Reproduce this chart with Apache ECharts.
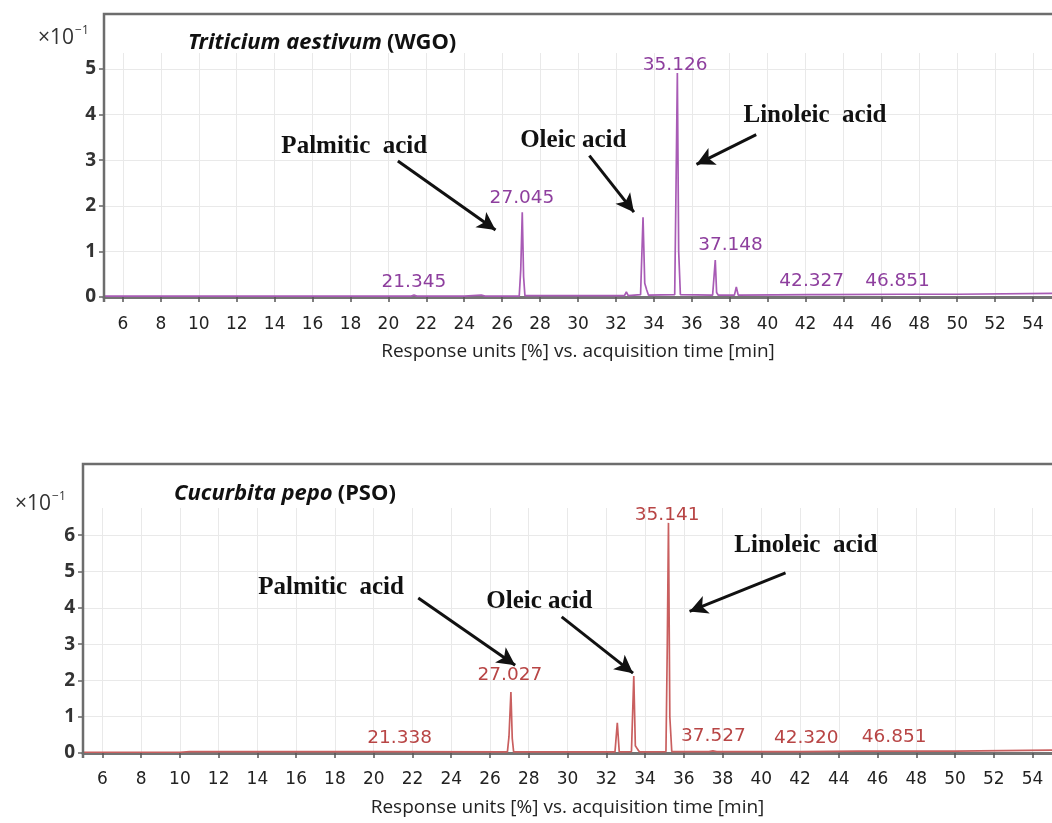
<!DOCTYPE html>
<html>
<head>
<meta charset="utf-8">
<script src="https://cdn.jsdelivr.net/npm/echarts@6/dist/echarts.min.js"></script>
<style>html,body{margin:0;padding:0;background:#fff;}#c{width:1052px;height:823px;}</style>
</head>
<body>
<div id="c"></div>
<script>
// ---- Data (retention time [min], response ×10^-1) ----
var wgoTime = [5, 10, 15, 20, 21.2, 21.35, 21.5, 24, 24.9, 25.1, 26.9, 26.98, 27.06, 27.13, 27.2, 30, 32.45, 32.55, 32.65, 33.3, 33.43, 33.52, 33.62, 33.72, 35.1, 35.17, 35.24, 35.31, 35.4, 37.1, 37.24, 37.31, 37.4, 38.25, 38.35, 38.45, 42.3, 43, 47, 50, 55];
var wgoResp = [0.02, 0.02, 0.02, 0.02, 0.02, 0.04, 0.02, 0.02, 0.04, 0.02, 0.02, 0.6, 1.86, 0.45, 0.03, 0.03, 0.03, 0.11, 0.03, 0.05, 1.75, 0.3, 0.16, 0.04, 0.05, 2.4, 4.91, 1.0, 0.05, 0.04, 0.81, 0.1, 0.04, 0.04, 0.22, 0.04, 0.05, 0.05, 0.06, 0.06, 0.08];
var psoTime = [5, 10, 10.5, 20, 26.9, 26.98, 27.08, 27.15, 27.22, 32.45, 32.57, 32.67, 33.3, 33.42, 33.5, 33.62, 33.72, 35.08, 35.15, 35.21, 35.28, 35.38, 37.3, 37.5, 37.7, 42, 45, 50, 55];
var psoResp = [0.02, 0.02, 0.04, 0.04, 0.03, 0.45, 1.68, 0.4, 0.03, 0.03, 0.83, 0.03, 0.04, 2.12, 0.2, 0.1, 0.03, 0.04, 3.0, 6.34, 1.0, 0.04, 0.04, 0.06, 0.04, 0.04, 0.05, 0.05, 0.08];

// Peak retention-time labels and peak heights
var wgoPeakLabels = ['21.345', '27.045', '35.126', '37.148', '42.327', '46.851'];
var wgoPeakHeights = [0.03, 1.86, 4.91, 0.81, 0.04, 0.05];
var psoPeakLabels = ['21.338', '27.027', '35.141', '37.527', '42.320', '46.851'];
var psoPeakHeights = [0.04, 1.68, 6.34, 0.06, 0.04, 0.05];

var xTickValues = [6, 8, 10, 12, 14, 16, 18, 20, 22, 24, 26, 28, 30, 32, 34, 36, 38, 40, 42, 44, 46, 48, 50, 52, 54];
var wgoYTicks = [0, 1, 2, 3, 4, 5];
var psoYTicks = [0, 1, 2, 3, 4, 5, 6];

var titles = ['Triticium aestivum', 'Cucurbita pepo'];
var titleTags = ['(WGO)', '(PSO)'];
var compoundNames = ['Palmitic  acid', 'Oleic acid', 'Linoleic  acid'];
var axisName = 'Response units [%] vs. acquisition time [min]';

// ---- Build ----
function pairs(t, r) { return t.map(function (v, i) { return [v, r[i]]; }); }

var labelFont = 'DejaVu Sans';
var serif = 'Liberation Serif';

function peakMarks(labels, heights, color, dists, offs) {
  return labels.map(function (l, i) {
    return {
      coord: [parseFloat(l), heights[i]],
      symbol: 'circle', symbolSize: 0,
      label: {
        show: true, formatter: l, position: 'top', distance: dists[i],
        offset: [offs[i], 0],
        color: color, fontSize: 18.5, fontFamily: labelFont
      }
    };
  });
}
function nameMarks(coords) {
  return compoundNames.map(function (n, i) {
    return {
      coord: coords[i], symbol: 'circle', symbolSize: 0,
      label: { show: true, formatter: n, position: 'inside', color: '#111', fontSize: 25, fontWeight: 'bold', fontFamily: serif }
    };
  });
}
function arrows(list) {
  return list.map(function (a) { return [{ coord: a[0] }, { coord: a[1] }]; });
}

var gridLine = { show: true, lineStyle: { color: '#e9e9e9', width: 1 } };

function xAxisCfg(gi, margin) {
  return {
    type: 'value', gridIndex: gi, min: 5, max: 55, minInterval: 2, maxInterval: 2,
    offset: 4,
    axisLine: { show: true, lineStyle: { color: '#747474', width: 3 } },
    axisTick: { show: true, length: 5, lineStyle: { color: '#555', width: 1.5 }, customValues: xTickValues },
    axisLabel: { show: true, margin: margin, color: '#222', fontSize: 17, fontFamily: labelFont, customValues: xTickValues,
      formatter: function (v) { return (v % 2 === 0 && v > 5 && v < 55) ? String(v) : ''; } },
    splitLine: gridLine,
    name: axisName, nameLocation: 'middle', nameGap: 41,
    nameTextStyle: { color: '#222', fontSize: 19, fontFamily: 'Open Sans' }
  };
}
function yAxisCfg(gi, max, ticks) {
  return {
    type: 'value', gridIndex: gi, min: 0, max: max, interval: 1,
    axisLine: { show: false },
    axisTick: { show: true, length: 5, lineStyle: { color: '#666', width: 1.5 }, customValues: ticks },
    axisLabel: { show: true, margin: 8, color: '#333', fontSize: 19, fontWeight: 'bold', fontFamily: 'Open Sans', customValues: ticks,
      formatter: function (v) { return (Math.abs(v - Math.round(v)) < 1e-9) ? String(v) : ''; } },
    splitLine: gridLine
  };
}

var arrowStyle = { color: '#111', width: 3, type: 'solid' };
var titleRich = {
  i: { fontSize: 22, fontWeight: 'bold', fontStyle: 'italic', fontFamily: 'Noto Sans', color: '#111' },
  b: { fontSize: 22, fontWeight: 'bold', fontFamily: 'Noto Sans', color: '#111' }
};
var expRich = {
  a: { fontSize: 21, fontWeight: 'normal', fontFamily: 'Open Sans', color: '#333', verticalAlign: 'bottom' },
  s: { fontSize: 12, fontWeight: 'normal', fontFamily: 'Open Sans', color: '#333', verticalAlign: 'top', padding: [0, 0, 12, 1] }
};

var option = {
  animation: false,
  backgroundColor: '#fff',
  title: [
    { left: 183, top: 27, text: '{i|' + titles[0] + '} {b|' + titleTags[0] + '}', textStyle: { rich: titleRich } },
    { left: 169, top: 478, text: '{i|' + titles[1] + '} {b|' + titleTags[1] + '}', textStyle: { rich: titleRich } },
    { left: 33, top: 20, text: '{a|×10}{s|−1}', textStyle: { fontWeight: 'normal', rich: expRich } },
    { left: 10, top: 486, text: '{a|×10}{s|−1}', textStyle: { fontWeight: 'normal', rich: expRich } }
  ],
  grid: [
    { left: 104, top: 53, width: 949, height: 244, containLabel: false },
    { left: 83, top: 508, width: 969, height: 245, containLabel: false }
  ],
  xAxis: [xAxisCfg(0, 15), xAxisCfg(1, 14)],
  yAxis: [yAxisCfg(0, 5.35, wgoYTicks), yAxisCfg(1, 6.75, psoYTicks)],
  graphic: [
    { type: 'polyline', silent: true, z: 10, shape: { points: [[104, 302], [104, 14], [1052, 14]] }, style: { stroke: '#6d6d6d', lineWidth: 2.5, fill: null } },
    { type: 'polyline', silent: true, z: 10, shape: { points: [[83, 758], [83, 464], [1052, 464]] }, style: { stroke: '#6d6d6d', lineWidth: 2.5, fill: null } }
  ],
  series: [
    {
      type: 'line', xAxisIndex: 0, yAxisIndex: 0, data: pairs(wgoTime, wgoResp),
      showSymbol: false, symbol: 'none', silent: true,
      lineStyle: { color: '#a85bb5', width: 1.7 },
      markPoint: { silent: true, animation: false,
        data: peakMarks(wgoPeakLabels, wgoPeakHeights, '#8e3f9e', [4, 4, -2, 5, 4, 4], [0, 0, 0, 17, 0, 0])
          .concat(nameMarks([[18.2, 3.29], [29.75, 3.42], [42.5, 3.97]])) },
      markLine: { silent: true, animation: false, symbol: ['none', 'arrow'], symbolSize: [14, 18],
        label: { show: false }, lineStyle: arrowStyle,
        data: arrows([[[20.5, 2.98], [25.65, 1.47]], [[30.6, 3.1], [32.95, 1.86]], [[39.4, 3.56], [36.25, 2.91]]]) }
    },
    {
      type: 'line', xAxisIndex: 1, yAxisIndex: 1, data: pairs(psoTime, psoResp),
      showSymbol: false, symbol: 'none', silent: true,
      lineStyle: { color: '#c95f5f', width: 1.7 },
      markPoint: { silent: true, animation: false,
        data: peakMarks(psoPeakLabels, psoPeakHeights, '#b84545', [4, 7, -2, 5, 4, 4], [0, 0, 0, 0, 0, 0])
          .concat(nameMarks([[17.8, 4.55], [28.55, 4.16], [42.3, 5.72]])) },
      markLine: { silent: true, animation: false, symbol: ['none', 'arrow'], symbolSize: [14, 18],
        label: { show: false }, lineStyle: arrowStyle,
        data: arrows([[[22.3, 4.27], [27.3, 2.42]], [[29.7, 3.75], [33.38, 2.2]], [[41.25, 4.96], [36.3, 3.9]]]) }
    }
  ]
};

var chart = echarts.init(document.getElementById('c'), null, { renderer: 'canvas' });
chart.setOption(option);
</script>
</body>
</html>
